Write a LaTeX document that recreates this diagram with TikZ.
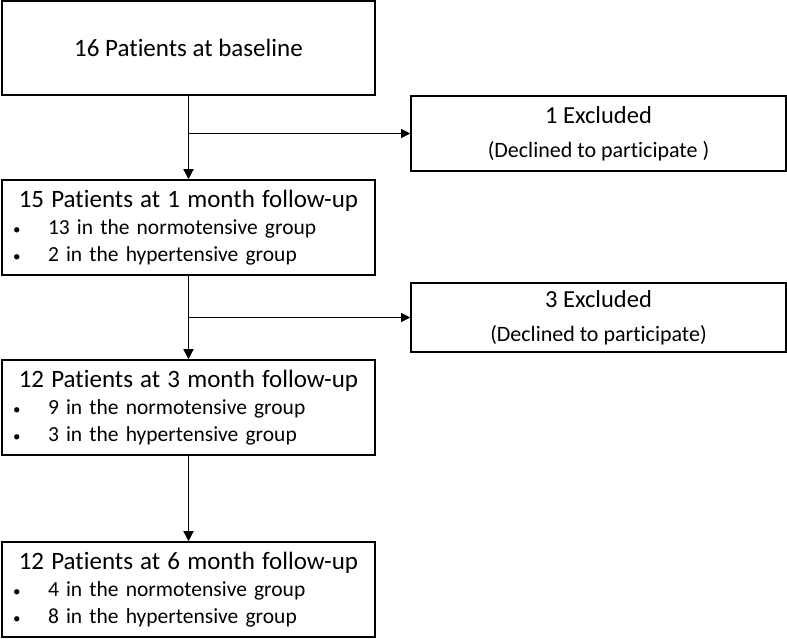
\documentclass[tikz,border=0pt]{standalone}
\usepackage{fontspec}
\setmainfont{Carlito}[Ligatures=NoCommon]
\usetikzlibrary{arrows.meta,positioning}

\tikzset{
  stagebox/.style={draw,line width=1.6pt,minimum width=373pt,minimum height=95pt,
    inner sep=0pt,text width=373pt,align=left,font=\fontsize{21.5}{27}\selectfont},
  exclbox/.style={draw,line width=1.6pt,minimum width=375pt,inner sep=0pt,
    align=center,font=\fontsize{24.5}{34}\selectfont},
  flow/.style={line width=1.4pt,-{Triangle[length=10pt,width=10pt]}},
  side/.style={line width=1pt,-{Triangle[length=9pt,width=9pt]}}
}
\newcommand{\grpline}[1]{\makebox[46pt][l]{\hspace{11pt}{\fontsize{15}{15}\selectfont\textbullet}}#1}
\newcommand{\stagetitle}[1]{\makebox[373pt]{\fontsize{25}{27}\selectfont #1}}

\begin{document}
\begin{tikzpicture}[x=1pt,y=-1pt]
  \useasboundingbox (0,0) rectangle (787,638);

  % follow-up stages
  \node[draw,line width=1.6pt,minimum width=373pt,minimum height=94pt,
    font=\fontsize{25}{30}\selectfont] (base) at (188.5,48) {16 Patients at baseline};
  \node[stagebox] (m1) at (188.5,227.5) {\stagetitle{15 Patients at 1 month follow-up}\\
    \grpline{13 in the normotensive group}\\ \grpline{2 in the hypertensive group}};
  \node[stagebox] (m3) at (188.5,407.5) {\stagetitle{12 Patients at 3 month follow-up}\\
    \grpline{9 in the normotensive group}\\ \grpline{3 in the hypertensive group}};
  \node[stagebox] (m6) at (188.5,589.5) {\stagetitle{12 Patients at 6 month follow-up}\\
    \grpline{4 in the normotensive group}\\ \grpline{8 in the hypertensive group}};

  % exclusions
  \node[exclbox,minimum height=75pt] (exc1) at (598.5,133.5)
    {1 Excluded\\{\fontsize{22}{34}\selectfont (Declined to participate )}};
  \node[exclbox,minimum height=69pt] (exc2) at (598.5,317.5)
    {3 Excluded\\{\fontsize{22}{34}\selectfont (Declined to participate)}};

  \coordinate (br1) at (base.south |- exc1.west);
  \coordinate (br2) at (m1.south |- exc2.west);

  \draw[flow] (base) -- (m1);
  \draw[flow] (m1) -- (m3);
  \draw[flow] (m3) -- (m6);
  \draw[side] (br1) -- (exc1);
  \draw[side] (br2) -- (exc2);
\end{tikzpicture}
\end{document}
